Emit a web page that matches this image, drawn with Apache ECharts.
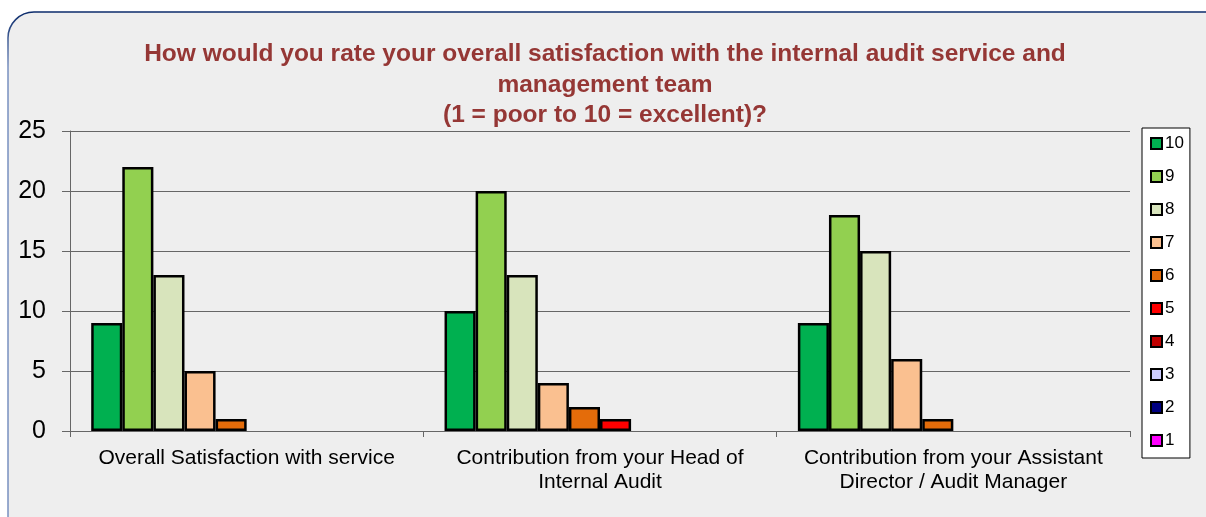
<!DOCTYPE html>
<html>
<head>
<meta charset="utf-8">
<style>
    html, body { margin: 0; padding: 0; background: #ffffff; }
    #chart { width: 1206px; height: 517px; }
</style>
<script src="https://cdn.jsdelivr.net/npm/echarts@6/dist/echarts.min.js"></script>
</head>
<body>
<div id="chart"></div>
<script>
// 类目
const categories = [
    'Overall Satisfaction with service',
    'Contribution from your Head of\nInternal Audit',
    'Contribution from your Assistant\nDirector / Audit Manager'
];
// 评分 10 到 1
const ratings = ['10', '9', '8', '7', '6', '5', '4', '3', '2', '1'];
const colors = ['#00b050', '#92d050', '#d8e4bc', '#fac090', '#e46c0a',
    '#ff0000', '#c00000', '#ccccff', '#000080', '#ff00ff'];
// 每个评分在三个类目中的人数
const r10 = [9, 10, 9];
const r9 = [22, 20, 18];
const r8 = [13, 13, 15];
const r7 = [5, 4, 6];
const r6 = [1, 2, 1];
const r5 = [0, 1, 0];
const r4 = [0, 0, 0];
const r3 = [0, 0, 0];
const r2 = [0, 0, 0];
const r1 = [0, 0, 0];
const values = [r10, r9, r8, r7, r6, r5, r4, r3, r2, r1];
const yTicks = [0, 5, 10, 15, 20, 25];

const titleText = 'How would you rate your overall satisfaction with the internal audit service and\n'
    + 'management team\n(1 = poor to 10 = excellent)?';

const myChart = echarts.init(document.getElementById('chart'));

const option = {
    animation: false,
    graphic: [{
        type: 'rect',
        z: -10,
        silent: true,
        shape: { x: 8, y: 12, width: 1240, height: 560, r: 26 },
        style: {
            fill: '#eeeeee',
            lineWidth: 1.5,
            stroke: {
                type: 'linear', x: 0, y: 0, x2: 0, y2: 1,
                colorStops: [{ offset: 0, color: '#0a2a6a' }, { offset: 0.1, color: '#7890c0' }]
            }
        }
    }],
    title: {
        text: titleText,
        left: 600,
        top: 34,
        textAlign: 'center',
        textStyle: {
            fontFamily: 'Liberation Sans, Arial, sans-serif',
            fontSize: 24.5,
            fontWeight: 'bold',
            color: '#953735',
            lineHeight: 30.5
        }
    },
    legend: {
        orient: 'vertical',
        left: 1142,
        top: 128,
        height: 330,
        padding: [7, 6, 9, 8],
        itemWidth: 11,
        itemHeight: 11,
        itemGap: 16,
        icon: 'rect',
        backgroundColor: '#ffffff',
        borderColor: '#000000',
        borderWidth: 1,
        borderRadius: 0,
        textStyle: {
            fontFamily: 'Liberation Sans, Arial, sans-serif',
            fontSize: 17,
            color: '#000000',
            padding: [0, 0, 0, -2]
        },
        data: ratings
    },
    grid: { left: 70, right: 76, top: 131, bottom: 86 },
    xAxis: {
        type: 'category',
        data: categories,
        axisLine: { lineStyle: { color: '#666666', width: 1 } },
        axisTick: { show: true, length: 6, lineStyle: { color: '#666666' } },
        axisLabel: {
            interval: 0,
            margin: 15,
            fontFamily: 'Liberation Sans, Arial, sans-serif',
            fontSize: 21,
            lineHeight: 24,
            color: '#000000'
        }
    },
    yAxis: {
        type: 'value',
        min: yTicks[0],
        max: yTicks[yTicks.length - 1],
        interval: 5,
        axisLine: { show: true, lineStyle: { color: '#666666', width: 1 } },
        axisTick: { show: true, length: 8, lineStyle: { color: '#666666' } },
        axisLabel: {
            margin: 24,
            fontFamily: 'Liberation Sans, Arial, sans-serif',
            fontSize: 25,
            color: '#000000'
        },
        splitLine: { lineStyle: { color: '#666666', width: 1 } }
    },
    series: ratings.map((name, i) => ({
        name: name,
        type: 'bar',
        barGap: '0%',
        barCategoryGap: '12%',
        // 0 不画柱子
        data: values[i].map(v => (v === 0 ? '-' : v)),
        itemStyle: {
            color: colors[i],
            borderColor: '#000000',
            borderWidth: 2.5
        }
    }))
};

myChart.setOption(option);
</script>
</body>
</html>
